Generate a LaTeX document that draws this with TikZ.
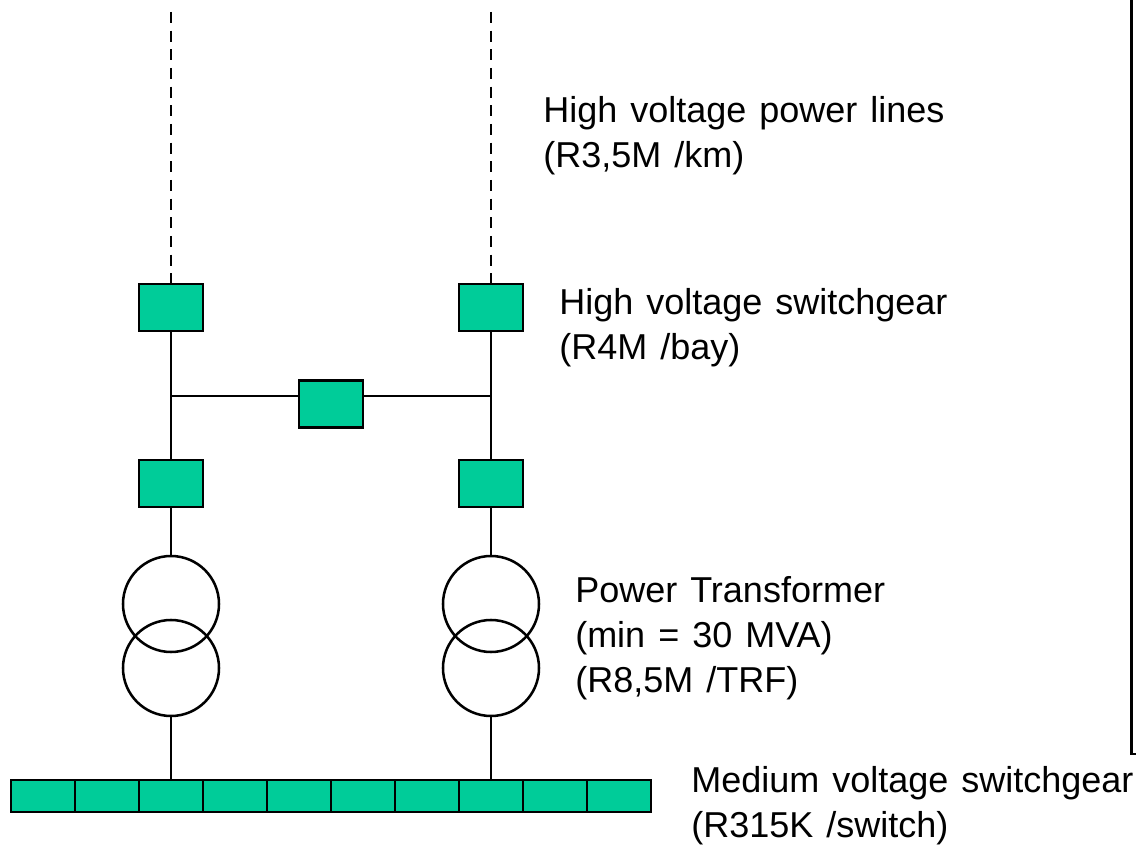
\documentclass[tikz,border=0pt]{standalone}
\usepackage{fontspec}
\setmainfont[WordSpace=1.3]{Liberation Sans}
\begin{document}
\begin{tikzpicture}[x=0.75pt,y=-0.75pt,
  conn/.style={line width=1.9pt,black},
  feed/.style={conn,dash pattern=on 8.25pt off 5.75pt},
  bay/.style={draw=black,line width=1.9pt,fill=bayfill,minimum width=48pt,minimum height=35.5pt,inner sep=0pt,outer sep=0pt},
  cell/.style={draw=black,line width=1.9pt,fill=bayfill,minimum width=48pt,minimum height=24pt,inner sep=0pt,outer sep=0pt},
  coil/.style={circle,draw=black,line width=1.9pt,minimum size=72pt,inner sep=0pt,outer sep=0pt},
  lbl/.style={anchor=north west,align=left,inner sep=0pt,font=\fontsize{27pt}{34pt}\selectfont}]
\definecolor{bayfill}{RGB}{0,204,153}
\useasboundingbox (0,0) rectangle (1136,845);
% free ends and junctions
\coordinate (topL) at (171,12);
\coordinate (topR) at (491,12);
\coordinate (jL) at (171,396);
\coordinate (jR) at (491,396);
\coordinate (frameA) at (1131.5,0);
\coordinate (frameB) at (1131.5,754);
\coordinate (frameC) at (1136,754);
% boxes
\node[bay] (hvL) at (171,307.5) {};
\node[bay] (hvR) at (491,307.5) {};
\node[bay] (lvL) at (171,483.5) {};
\node[bay] (lvR) at (491,483.5) {};
% bus
\foreach \n in {0,...,9}{
  \node[cell] (c\n) at ({43+64*\n},796) {};
}
% transformers
\node[coil] (t1L) at (171,604) {};
\node[coil] (t2L) at (171,668) {};
\node[coil] (t1R) at (491,604) {};
\node[coil] (t2R) at (491,668) {};
% connectors
\draw[feed] (topL) -- (hvL.north);
\draw[feed] (topR) -- (hvR.north);
\draw[conn] (hvL.south) -- (lvL.north);
\draw[conn] (hvR.south) -- (lvR.north);
\draw[conn] (jL) -- (jR);
\node[bay] (tie) at (331,404) {};
\draw[conn] (lvL.south) -- (t1L.north);
\draw[conn] (lvR.south) -- (t1R.north);
\draw[conn] (t2L.south) -- (c2.north);
\draw[conn] (t2R.south) -- (c7.north);
\draw[conn] (frameA) -- (frameB) -- (frameC);
% labels
\node[lbl] (a) at (543,96) {High voltage power lines\\(R3,5M /km)};
\node[lbl] (b) at (559,288) {High voltage switchgear\\(R4M /bay)};
\node[lbl] (d) at (575,576) {Power Transformer\\(min = 30 MVA)\\(R8,5M /TRF)};
\node[lbl] (e) at (691,766) {Medium voltage switchgear\\(R315K /switch)};
\end{tikzpicture}
\end{document}
